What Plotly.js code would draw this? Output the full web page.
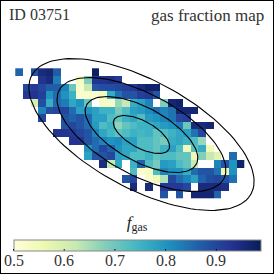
<!DOCTYPE html>
<html><head><meta charset="utf-8">
<script src="https://cdn.plot.ly/plotly-3.0.1.min.js"></script>
<style>html,body{margin:0;padding:0;background:#fff;overflow:hidden}</style>
</head><body><div id="c" style="width:274px;height:274px"></div>
<script>
const n=null;
const r0=[.86,n,.88,.95,.96,.87,n,n,n,n,.98];
const r1=[n,n,n,.93,.95,.83,n,n,.53,.68,.93,.93,.94,.92];
const r2=[n,.90,.92,.90,.87,.87,.82,.70,.52,.62,.88,.89,.89,.90,.91,.92,.95,.97,.97];
const r3=[n,.92,.93,.91,.80,.85,.80,.75,.52,.52,.52,.54,.76,.84,.88,.88,.91,.92,.88];
const r4=[n,n,.60,.89,.76,.85,.83,.77,.80,.70,n,.53,.53,.66,.62,.76,.78,.82,n,.68,.96,.97];
const r5=[n,n,n,.82,.89,.90,.90,.85,.78,.80,.78,.75,.75,.69,.73,.78,.79,.81,.84,.82,.84,.96,.96,.96];
const r6=[n,n,n,.90,n,n,.88,.86,.88,.85,.78,.78,.73,.71,.75,.77,.73,.79,.80,.82,.84,.90,.91];
const r7=[n,n,n,n,n,n,.88,.90,.88,.85,.79,.73,.75,.67,.71,.73,.75,.75,.77,.79,.80,.83,.70,.95,.95,.96];
const r8=[n,n,n,n,n,.93,.93,.92,.90,.88,.82,.77,.74,.71,.73,.75,.74,.75,.71,.73,.75,.77,.78,.84,.90];
const r9=[n,n,n,n,n,n,n,.93,.93,.88,.85,.82,.80,.81,.78,.78,.73,.73,.71,.69,.76,.77,.75,.73,.66];
const r10=[n,n,n,n,n,n,n,n,n,.80,.85,.90,.86,.80,.77,.77,.73,.73,.71,.75,.78,.73,.55,.72,.76,.55];
const r11=[n,n,n,n,n,n,n,n,n,.78,.88,.88,.90,.78,.77,.73,.73,.75,.71,.73,.73,.71,.71,.55,.68,.62,.58,n,.85];
const r12=[n,n,n,n,n,n,n,n,n,n,n,.95,.62,.77,n,.75,.86,.73,.69,.79,.78,.73,.71,.62,n,n,.82,.88,.80,.97];
const r13=[n,n,n,n,n,n,n,n,n,n,n,n,n,n,n,.73,.52,.53,.73,.82,.80,.80,.76,.85,.88,.88,.84,.56,.80];
const r14=[n,n,n,n,n,n,n,n,n,n,n,n,n,n,.88,.90,n,.52,.55,.64,.90,.85,.82,.78,.86,.89,.90,.88,.84];
const r15=[n,n,n,n,n,n,n,n,n,n,n,n,n,n,n,.95,n,.95,n,.92,.92,.92,.90,n,.95,.95,.95,.94];
const r16=[n,n,n,n,n,n,n,n,n,n,n,n,n,n,n,n,n,n,n,.88,n,.88,n,.96,.96,.96,.86];
const fractionRows=[r0,r1,r2,r3,r4,r5,r6,r7,r8,r9,r10,r11,r12,r13,r14,r15,r16];
const nCols=30;
const gridZ=fractionRows.map(r=>Array.from({length:nCols},(_,i)=>i<r.length?r[i]:null));
const cbTicks=[0.5,0.6,0.7,0.8,0.9];
const cbLabels=['0.5','0.6','0.7','0.8','0.9'];
const zLimits=[0.5,0.987];
const ylgnbu=[[0,'#ffffd9'],[.125,'#edf8b1'],[.25,'#c7e9b4'],[.375,'#7fcdbb'],[.5,'#41b6c4'],[.625,'#1d91c0'],[.75,'#225ea8'],[.875,'#253494'],[1,'#081d58']];
const contourScales=[1,2,3,4];
const eCenter=[16.06,8.19], eA=4.09, eB=1.77, eAngle=28.4*Math.PI/180;
const serif='"Liberation Serif","DejaVu Serif",serif';
const barLeft=13.5, barLen=247, barBottom=252;
const traces=[{type:'heatmap',z:gridZ,zmin:zLimits[0],zmax:zLimits[1],colorscale:ylgnbu,zsmooth:false,hoverongaps:false,
  colorbar:{orientation:'h',xanchor:'left',yanchor:'bottom',x:(barLeft-1)/272,y:(273-barBottom)/272,lenmode:'pixels',len:barLen,thickness:11,thicknessmode:'pixels',
   xpad:0,ypad:0,outlinecolor:'#888',outlinewidth:1,borderwidth:0,tickmode:'array',tickvals:cbTicks,ticktext:cbLabels,ticks:'',showticklabels:false,
   title:{text:'<i>f</i><sub>gas</sub>',side:'top',font:{family:serif,size:17,color:'#222'}}}}];
contourScales.forEach(k=>{const xs=[],ys=[];for(let d=0;d<=360;d+=3){const t=d*Math.PI/180;
  xs.push(eCenter[0]+k*(eA*Math.cos(t)*Math.cos(eAngle)-eB*Math.sin(t)*Math.sin(eAngle)));
  ys.push(eCenter[1]+k*(eA*Math.cos(t)*Math.sin(eAngle)+eB*Math.sin(t)*Math.cos(eAngle)));}
  traces.push({type:'scatter',mode:'lines',x:xs,y:ys,line:{color:'#000',width:1.1},showlegend:false,hoverinfo:'skip'});});
const tickNotes=cbTicks.map((v,i)=>({xref:'paper',yref:'paper',x:(barLeft-1+(v-zLimits[0])/(zLimits[1]-zLimits[0])*barLen)/272,y:(273-249)/272,
  xanchor:'center',yanchor:'middle',showarrow:true,arrowhead:0,arrowwidth:1,arrowcolor:'#000',standoff:0,ax:0,ay:11.5,text:cbLabels[i],font:{family:serif,size:16,color:'#333'}}));
const layout={width:274,height:274,margin:{l:1,r:1,t:1,b:1,autoexpand:false},paper_bgcolor:'#fff',plot_bgcolor:'#fff',showlegend:false,
 xaxis:{range:[-2.375,33.32],visible:true,showgrid:false,zeroline:false,showticklabels:false,ticks:'',showline:true,mirror:true,linecolor:'#000',linewidth:2},
 yaxis:{range:[26.36,-9.33],showgrid:false,zeroline:false,showticklabels:false,ticks:'',showline:true,mirror:true,linecolor:'#000',linewidth:2},
 annotations:[
  {xref:'paper',yref:'paper',x:(7-1)/272,y:(273-14)/272,xanchor:'left',yanchor:'middle',showarrow:false,text:'ID 03751',font:{family:serif,size:16,color:'#333'}},
  {xref:'paper',yref:'paper',x:(266-1)/272,y:(273-15)/272,xanchor:'right',yanchor:'middle',showarrow:false,text:'gas fraction map',font:{family:serif,size:17,color:'#333'}},
  ...tickNotes]};
Plotly.newPlot('c',traces,layout,{staticPlot:true,displayModeBar:false});
</script></body></html>
